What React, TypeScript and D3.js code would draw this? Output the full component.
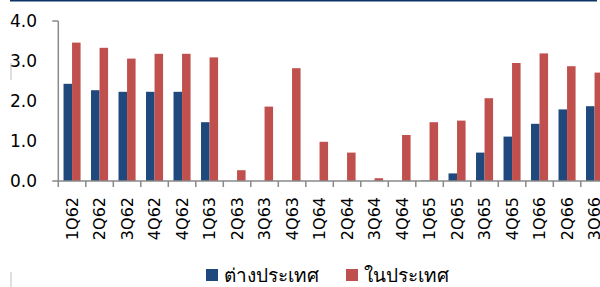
import { useEffect, useRef } from "react"
import * as d3 from "d3"

// quarters (4Q62 appears twice in the source chart)
const quarters = [
  "1Q62", "2Q62", "3Q62", "4Q62", "4Q62", "1Q63", "2Q63", "3Q63", "4Q63", "1Q64",
  "2Q64", "3Q64", "4Q64", "1Q65", "2Q65", "3Q65", "4Q65", "1Q66", "2Q66", "3Q66",
]
const foreign = [2.43, 2.27, 2.23, 2.23, 2.23, 1.47, 0, 0, 0, 0, 0, 0, 0, 0.01, 0.19, 0.71, 1.11, 1.43, 1.79, 1.87]
const domestic = [3.46, 3.33, 3.06, 3.18, 3.18, 3.09, 0.27, 1.86, 2.82, 0.98, 0.71, 0.07, 1.15, 1.47, 1.51, 2.07, 2.95, 3.19, 2.87, 2.71]
const seriesNames = ["ต่างประเทศ", "ในประเทศ"]
const yTicks = [0, 1, 2, 3, 4]

const COLORS = {
  blue: "#1f497d",
  red: "#c0504d",
  axis: "#898989",
  top: "#0e3465",
}

export default function App() {
  const svgRef = useRef<SVGSVGElement>(null)

  useEffect(() => {
    if (!svgRef.current) return
    const svg = d3.select(svgRef.current)
    svg.selectAll("*").remove()

    const font = "'DejaVu Sans', Verdana, sans-serif"
    const left = 58.3
    const step = 27.5
    const top = 21
    const bottom = 181

    const x = d3
      .scaleBand<number>()
      .domain(d3.range(quarters.length))
      .range([left, left + step * quarters.length])
      .paddingInner(0.38)
      .paddingOuter(0.19)

    const xSub = d3.scaleBand<number>().domain([0, 1]).range([0, x.bandwidth()])

    const y = d3.scaleLinear().domain([0, 4]).range([bottom, top])

    // ligne bleue en haut
    svg.append("line")
      .attr("x1", 10).attr("x2", 597)
      .attr("y1", 0.5).attr("y2", 0.5)
      .attr("stroke", COLORS.top).attr("stroke-width", 2)

    // petites marques grises
    svg.append("line")
      .attr("x1", 11).attr("x2", 11).attr("y1", 63).attr("y2", 80)
      .attr("stroke", "#d4d4d4").attr("stroke-width", 1.5)
    svg.append("line")
      .attr("x1", 11).attr("x2", 11).attr("y1", 272).attr("y2", 287)
      .attr("stroke", "#d4d4d4").attr("stroke-width", 1.5)

    const g = svg.append("g")

    // barres
    const series = [foreign, domestic]
    const colors = [COLORS.blue, COLORS.red]
    series.forEach((values, s) => {
      g.selectAll(`.bar-${s}`)
        .data(values)
        .enter()
        .append("rect")
        .attr("class", `bar-${s}`)
        .attr("x", (_d, i) => (x(i) ?? 0) + (xSub(s) ?? 0))
        .attr("y", (d) => y(d))
        .attr("width", xSub.bandwidth())
        .attr("height", (d) => y(0) - y(d))
        .attr("fill", colors[s])
    })

    // axe Y
    g.append("line")
      .attr("x1", left).attr("x2", left)
      .attr("y1", top).attr("y2", bottom)
      .attr("stroke", COLORS.axis).attr("stroke-width", 1.5)
    g.append("line")
      .attr("x1", left - 6).attr("x2", left)
      .attr("y1", top).attr("y2", top)
      .attr("stroke", COLORS.axis).attr("stroke-width", 1.5)

    g.selectAll(".ylab")
      .data(yTicks)
      .enter()
      .append("text")
      .attr("class", "ylab")
      .attr("x", 37)
      .attr("y", (d) => y(d))
      .attr("dy", "0.36em")
      .attr("text-anchor", "end")
      .attr("font-family", font)
      .attr("font-size", 17)
      .attr("fill", "#000")
      .text((d) => d3.format(".1f")(d))

    // axe X
    g.append("line")
      .attr("x1", left - 6).attr("x2", 600)
      .attr("y1", bottom).attr("y2", bottom)
      .attr("stroke", COLORS.axis).attr("stroke-width", 1.5)

    const tickXs = d3.range(quarters.length + 1).map((i) => left + i * x.step())
    g.selectAll(".xtick")
      .data(tickXs)
      .enter()
      .append("line")
      .attr("class", "xtick")
      .attr("x1", (d) => d).attr("x2", (d) => d)
      .attr("y1", bottom).attr("y2", bottom + 6)
      .attr("stroke", COLORS.axis).attr("stroke-width", 1.5)

    g.selectAll(".xlab")
      .data(quarters)
      .enter()
      .append("text")
      .attr("class", "xlab")
      .attr("transform", (_d, i) => `translate(${(x(i) ?? 0) + x.bandwidth() / 2},${197}) rotate(-90)`)
      .attr("dy", "0.36em")
      .attr("text-anchor", "end")
      .attr("font-family", font)
      .attr("font-size", 16)
      .attr("fill", "#000")
      .text((d) => d)

    // légende
    const legendX = [206, 346]
    seriesNames.forEach((name, s) => {
      g.append("rect")
        .attr("x", legendX[s]).attr("y", 269)
        .attr("width", 12).attr("height", 12)
        .attr("fill", colors[s])
      g.append("text")
        .attr("x", legendX[s] + 18)
        .attr("y", 282)
        .attr("font-family", font)
        .attr("font-size", 19)
        .attr("fill", "#000")
        .text(name)
    })
  }, [])

  return (
    <svg
      ref={svgRef}
      width={600}
      height={287}
      style={{ position: "absolute", left: 0, top: 0, background: "#fff" }}
    />
  )
}
